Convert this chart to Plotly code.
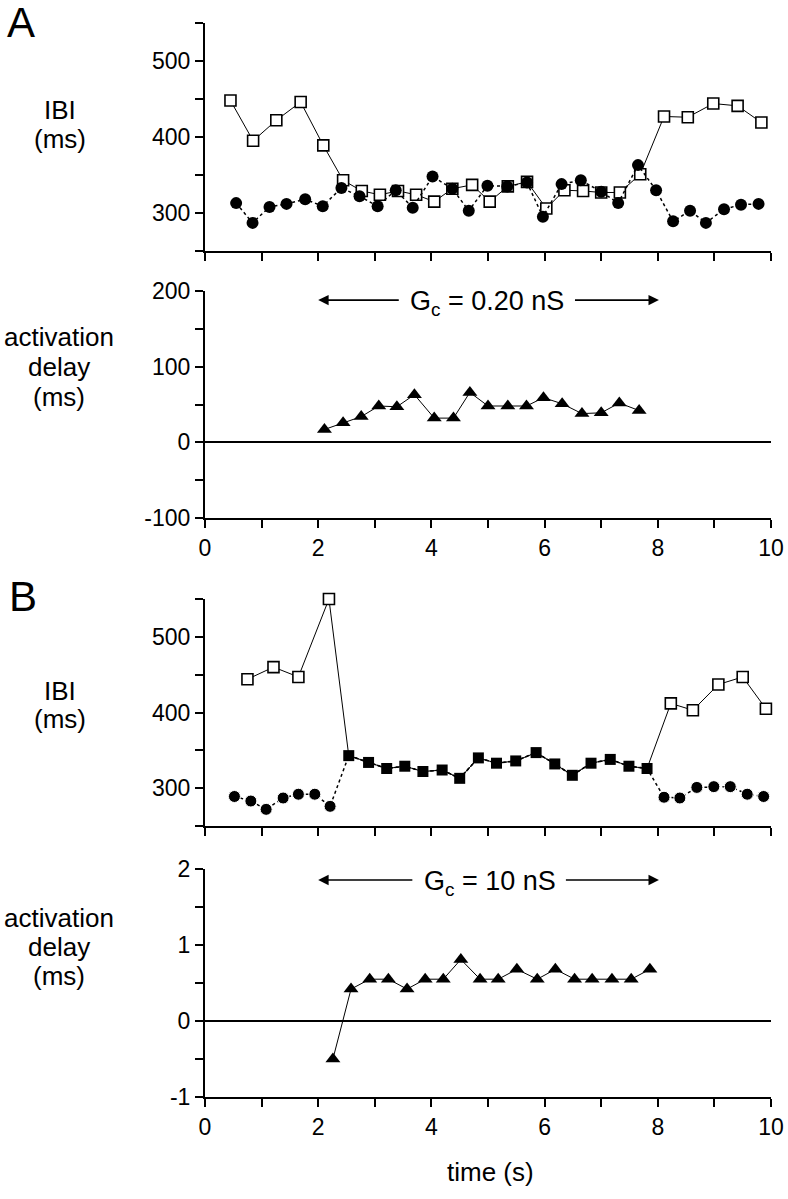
import plotly.graph_objects as go
from plotly.subplots import make_subplots

# ---- Panel A (Gc = 0.20 nS) ----
a_sq_t = [0.45, 0.85, 1.26, 1.69, 2.09, 2.44, 2.77, 3.09, 3.41, 3.73, 4.05, 4.37, 4.72, 5.03,
          5.35, 5.69, 6.03, 6.35, 6.68, 7.0, 7.33, 7.69, 8.11, 8.53, 8.98, 9.41, 9.83]
a_sq_ibi = [448, 395, 422, 446, 389, 343, 329, 324, 329, 324, 315, 332, 337, 315,
            335, 341, 306, 330, 329, 327, 327, 351, 427, 426, 444, 441, 419]
a_ci_t = [0.55, 0.84, 1.14, 1.44, 1.77, 2.08, 2.41, 2.73, 3.05, 3.37, 3.67, 4.02, 4.37, 4.66, 4.99,
          5.34, 5.69, 5.97, 6.30, 6.64, 7.0, 7.30, 7.65, 7.97, 8.27, 8.57, 8.85, 9.17, 9.47, 9.78]
a_ci_ibi = [313, 287, 308, 312, 318, 309, 333, 322, 309, 330, 307, 348, 332, 303, 336,
            335, 340, 295, 338, 343, 328, 313, 363, 330, 289, 303, 287, 305, 311, 312]
a_tri_t = [2.11, 2.44, 2.76, 3.07, 3.39, 3.70, 4.05, 4.39, 4.68, 5.0, 5.35, 5.68, 5.98,
           6.31, 6.66, 7.0, 7.32, 7.67]
a_delay = [17, 26, 34, 48, 47, 63, 32, 32, 66, 48, 48, 48, 59, 51, 38, 39, 52, 42]

# ---- Panel B (Gc = 10 nS) ----
b_sq_pre_t = [0.75, 1.21, 1.65, 2.19]
b_sq_pre = [444, 460, 447, 550]
b_sync_t = [2.54, 2.89, 3.21, 3.53, 3.85, 4.19, 4.5, 4.83, 5.15, 5.49, 5.85, 6.18, 6.49,
            6.82, 7.16, 7.49, 7.81]
b_sync = [343, 334, 326, 329, 322, 324, 313, 340, 333, 336, 347, 332, 317, 333, 338, 329, 326]
b_sq_post_t = [8.23, 8.62, 9.07, 9.5, 9.91]
b_sq_post = [412, 403, 437, 447, 405]
b_ci_pre_t = [0.52, 0.81, 1.08, 1.38, 1.65, 1.94, 2.21]
b_ci_pre = [289, 283, 272, 287, 292, 292, 276]
b_ci_post_t = [8.11, 8.39, 8.69, 8.99, 9.28, 9.58, 9.87]
b_ci_post = [288, 287, 301, 302, 302, 292, 289]
b_tri_t = [2.26, 2.58, 2.91, 3.24, 3.57, 3.89, 4.21, 4.52, 4.86, 5.18, 5.51, 5.87, 6.19,
           6.53, 6.84, 7.19, 7.53, 7.86]
b_delay = [-0.5, 0.42, 0.55, 0.55, 0.42, 0.55, 0.55, 0.81, 0.55, 0.55, 0.68, 0.55, 0.68,
           0.55, 0.55, 0.55, 0.55, 0.68]

x_ticks = [0, 2, 4, 6, 8, 10]
ibi_ticks = [300, 400, 500]
a_delay_ticks = [-100, 0, 100, 200]
b_delay_ticks = [-1, 0, 1, 2]

FONT = "Liberation Sans, Arial, sans-serif"
W, H = 788, 1199
L, R = 205, 17


def py(px):
    return 1 - px / H


def pxx(px):
    return (px - L) / (W - L - R)


fig = make_subplots(rows=4, cols=1)

# Dessin - A
fig.add_trace(go.Scatter(x=a_sq_t, y=a_sq_ibi, mode='lines+markers',
                         line=dict(color='black', width=1),
                         marker=dict(symbol='square', size=11, color='white',
                                     line=dict(color='black', width=1.6))), row=1, col=1)
fig.add_trace(go.Scatter(x=a_ci_t, y=a_ci_ibi, mode='lines+markers',
                         line=dict(color='black', width=1.5, dash='dot'),
                         marker=dict(symbol='circle', size=12, color='black')), row=1, col=1)
fig.add_trace(go.Scatter(x=a_tri_t, y=a_delay, mode='lines+markers',
                         line=dict(color='black', width=1),
                         marker=dict(symbol='triangle-up', size=13, color='black')), row=2, col=1)

# Dessin - B
sq_t = b_sq_pre_t + b_sync_t + b_sq_post_t
sq_y = b_sq_pre + b_sync + b_sq_post
ci_t = b_ci_pre_t + b_sync_t + b_ci_post_t
ci_y = b_ci_pre + b_sync + b_ci_post
ci_size = [12] * len(b_ci_pre_t) + [0] * len(b_sync_t) + [12] * len(b_ci_post_t)
sq_size = [11] * len(b_sq_pre_t) + [0] * len(b_sync_t) + [11] * len(b_sq_post_t)

fig.add_trace(go.Scatter(x=ci_t, y=ci_y, mode='lines+markers',
                         line=dict(color='black', width=1.5, dash='dot'),
                         marker=dict(symbol='circle', size=ci_size, color='black',
                                     opacity=1, sizemode='diameter')), row=3, col=1)
fig.add_trace(go.Scatter(x=sq_t, y=sq_y, mode='lines+markers',
                         line=dict(color='black', width=1),
                         marker=dict(symbol='square', size=sq_size, color='white', opacity=1,
                                     sizemode='diameter',
                                     line=dict(color='black', width=1.6))), row=3, col=1)
fig.add_trace(go.Scatter(x=b_sync_t, y=b_sync, mode='lines+markers',
                         line=dict(color='black', width=1.5, dash='dot'),
                         marker=dict(symbol='square', size=11, color='black')), row=3, col=1)
fig.add_trace(go.Scatter(x=b_tri_t, y=b_delay, mode='lines+markers',
                         line=dict(color='black', width=1),
                         marker=dict(symbol='triangle-up', size=13, color='black')), row=4, col=1)

fig.update_traces(cliponaxis=False, showlegend=False, hoverinfo='skip')

# Axes
axis_common = dict(showline=True, linecolor='black', linewidth=2, ticks='outside',
                   ticklen=8, tickwidth=2, tickcolor='black', showgrid=False,
                   tickfont=dict(family=FONT, size=23, color='black'))
domains = [(251, 23), (518, 291), (826, 599), (1097, 869)]
for i, (lo, hi) in enumerate(domains, start=1):
    fig.update_xaxes(range=[0, 10], tickmode='array', tickvals=x_ticks,
                     ticktext=[str(v) for v in x_ticks], showticklabels=(i % 2 == 0),
                     zeroline=False, domain=[0, 1],
                     minor=dict(dtick=1, tick0=0, ticks='outside', ticklen=8,
                                tickwidth=2, tickcolor='black'),
                     **axis_common, row=i, col=1)
    fig.update_yaxes(domain=[py(lo), py(hi)], **axis_common, row=i, col=1)

for r in (1, 3):
    fig.update_yaxes(range=[250, 550], tickmode='array', tickvals=ibi_ticks,
                     ticktext=[str(v) for v in ibi_ticks], zeroline=False,
                     minor=dict(dtick=50, tick0=0, ticks='outside', ticklen=8,
                                tickwidth=2, tickcolor='black'), row=r, col=1)
fig.update_yaxes(range=[-100, 200], tickmode='array', tickvals=a_delay_ticks,
                 ticktext=[str(v) for v in a_delay_ticks],
                 zeroline=True, zerolinecolor='black', zerolinewidth=2,
                 minor=dict(dtick=50, tick0=0, ticks='outside', ticklen=8,
                            tickwidth=2, tickcolor='black'), row=2, col=1)
fig.update_yaxes(range=[-1, 2], tickmode='array', tickvals=b_delay_ticks,
                 ticktext=[str(v) for v in b_delay_ticks],
                 zeroline=True, zerolinecolor='black', zerolinewidth=2,
                 minor=dict(dtick=0.5, tick0=0, ticks='outside', ticklen=8,
                            tickwidth=2, tickcolor='black'), row=4, col=1)

# Textes
lab = dict(family=FONT, size=27, color='black')
ann = []
for txt, x, y, size in [("A", 21, 22, 42), ("B", 23, 596, 42),
                        ("IBI", 60, 110, 26), ("(ms)", 60, 139, 26),
                        ("activation", 59, 337, 26), ("delay", 59, 367, 26), ("(ms)", 59, 397, 26),
                        ("IBI", 60, 691, 26), ("(ms)", 60, 719, 26),
                        ("activation", 59, 918, 26), ("delay", 59, 947, 26), ("(ms)", 59, 976, 26),
                        ("time (s)", 490, 1172, 26)]:
    ann.append(dict(text=txt, x=pxx(x), y=py(y), xref='paper', yref='paper',
                    xanchor='center', yanchor='middle', showarrow=False,
                    font=dict(family=FONT, size=size, color='black')))

# Fleches Gc
for xr, yr, yv, t0, t1, label, xc in [('x2', 'y2', 188, 3.45, 6.51, "G<sub>c</sub> = 0.20 nS", 4.98),
                                      ('x4', 'y4', 1.855, 3.69, 6.35, "G<sub>c</sub> = 10 nS", 5.03)]:
    ann.append(dict(x=2.0, y=yv, ax=t0, ay=yv, xref=xr, yref=yr, axref=xr, ayref=yr,
                    text='', showarrow=True, arrowhead=2, arrowsize=1.3, arrowwidth=1.6,
                    arrowcolor='black', standoff=0, startstandoff=0))
    ann.append(dict(x=8.02, y=yv, ax=t1, ay=yv, xref=xr, yref=yr, axref=xr, ayref=yr,
                    text='', showarrow=True, arrowhead=2, arrowsize=1.3, arrowwidth=1.6,
                    arrowcolor='black', standoff=0, startstandoff=0))
    ann.append(dict(x=xc, y=yv, xref=xr, yref=yr, text=label, showarrow=False,
                    xanchor='center', yanchor='middle', yshift=-3, font=lab))

# Habillage
fig.update_layout(
    template='none',
    width=W, height=H,
    margin=dict(l=L, r=R, t=0, b=0),
    paper_bgcolor='white', plot_bgcolor='white',
    showlegend=False,
    font=dict(family=FONT, color='black'),
    annotations=ann,
)

fig.write_html("out.html", config={'displayModeBar': False},
               post_script="document.body.style.margin='0px';document.body.style.overflow='hidden';")
